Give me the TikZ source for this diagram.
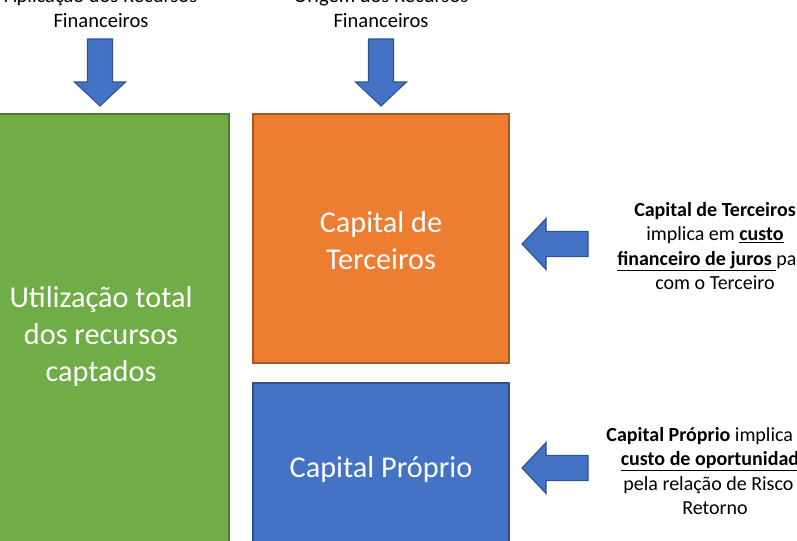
\documentclass[tikz,border=0pt]{standalone}
\usepackage{fontspec}
\setmainfont{Carlito}
\definecolor{verde}{HTML}{70AD47}
\definecolor{laranja}{HTML}{ED7D31}
\definecolor{azul}{HTML}{4472C4}
\definecolor{azulesc}{HTML}{2F528F}

\tikzset{
	pics/setabaixo/.style={
		code={
			\draw[pic actions] (-12.5,-67) -- (12.5,-67) -- (12.5,-24) -- (25.5,-24) -- (0,0) -- (-25.5,-24) -- (-12.5,-24) -- cycle;
		}
	},
	pics/setaesq/.style={
		code={
			\draw[pic actions] (66,-12.5) -- (66,12.5) -- (24,12.5) -- (24,25.5) -- (0,0) -- (24,-25.5) -- (24,-12.5) -- cycle;
		}
	},
	caixa/.style={draw=#1!70!black, fill=#1, line width=0.8pt},
	textocaixa/.style={white, align=center, font=\fontsize{22.7}{27.8}\selectfont},
	textolado/.style={align=center, font=\fontsize{15}{18.4}\selectfont},
	textotopo/.style={align=center, font=\fontsize{15.4}{18.8}\selectfont}
}

\begin{document}
\begin{tikzpicture}[x=0.75pt,y=-0.75pt]
				\useasboundingbox (0,0) rectangle (797,540);
				\clip (0,0) rectangle (797,540);
				%% caixas
				\draw[caixa=verde] (-5,114) rectangle (229,560);
				\draw[caixa=laranja] (253,114) rectangle (509,363);
				\draw[caixa=azul] (253,383) rectangle (509,560);
				\node[textocaixa] (utilizacao) at (101,336) {Utilização total\\dos recursos\\captados};
				\node[textocaixa] (terceiros) at (381,240.5) {Capital de\\Terceiros};
				\node[textocaixa] (proprio) at (381,469) {Capital Próprio};
				
				%% titulos e setas de cima
				\node[textotopo] (aplicacao) at (101,8) {Aplicação dos Recursos\\Financeiros};
				\node[textotopo] (origem) at (381,8) {Origem dos Recursos\\Financeiros};
				\pic[fill=azul, draw=azulesc, line width=0.8pt] at (100,106) {setabaixo};
				\pic[fill=azul, draw=azulesc, line width=0.8pt] at (381,106) {setabaixo};
				
				%% setas e textos da direita
				\pic[fill=azul, draw=azulesc, line width=0.8pt] at (522,244) {setaesq};
				\pic[fill=azul, draw=azulesc, line width=0.8pt] at (522,468) {setaesq};
				\node[textolado] (jurostxt) at (715,246) {\textbf{Capital de Terceiros}\\implica em \underline{\textbf{custo}}\\\underline{\textbf{financeiro de juros} }para\\com o Terceiro};
				\node[textolado] (oportxt) at (715,471) {\textbf{Capital Próprio} implica em\\\underline{\textbf{custo de oportunidade}}\\pela relação de Risco x\\Retorno};
\end{tikzpicture}
\end{document}
